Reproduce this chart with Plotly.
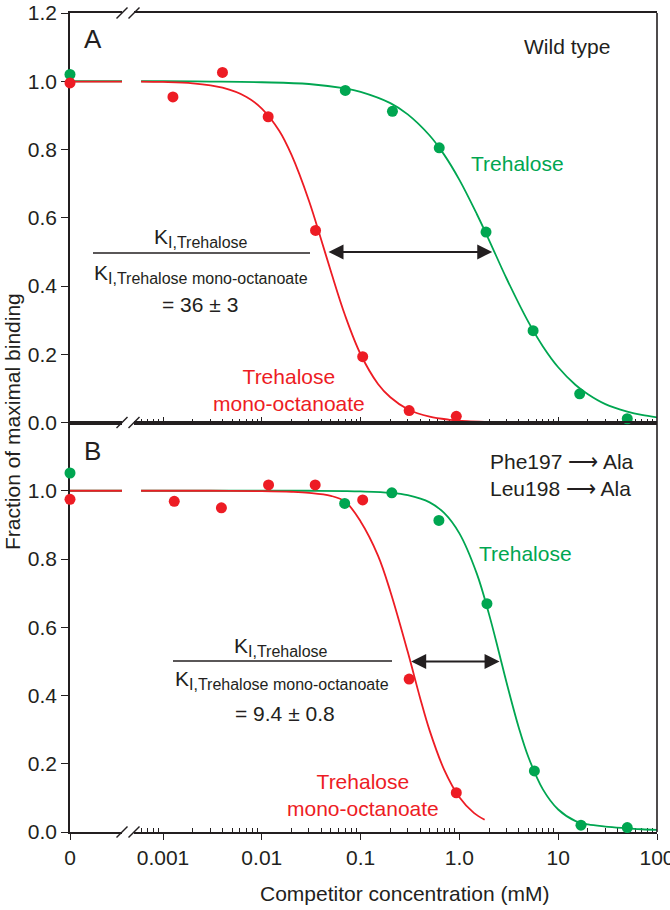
import numpy as np
import plotly.graph_objects as go

# ---------------- data ----------------
# Panel A : wild type
a_tre_conc = [0.07, 0.21, 0.625, 1.86, 5.57, 16.5, 50]
a_tre_frac = [0.973, 0.912, 0.805, 0.558, 0.269, 0.084, 0.011]
a_tre_zero = 1.02
a_oct_conc = [0.00126, 0.0040, 0.0116, 0.035, 0.105, 0.31, 0.93]
a_oct_frac = [0.954, 1.026, 0.896, 0.563, 0.193, 0.035, 0.018]
a_oct_zero = 0.995

a_tre_fit_x = [0.0006, 0.001, 0.003, 0.01, 0.03, 0.07, 0.1, 0.2, 0.3, 0.5, 0.7, 1, 1.5, 2, 3, 5, 7, 10, 15, 20, 30, 50, 70, 100]
a_tre_fit_y = [1.0, 1.0, 0.999, 0.997, 0.992, 0.979, 0.969, 0.936, 0.903, 0.841, 0.785, 0.711, 0.611, 0.534, 0.422,
               0.294, 0.223, 0.162, 0.11, 0.083, 0.054, 0.032, 0.022, 0.015]
a_oct_fit_x = [0.0006, 0.001, 0.002, 0.004, 0.007, 0.01, 0.015, 0.02, 0.03, 0.04, 0.05, 0.07, 0.1, 0.15, 0.2, 0.3,
               0.5, 0.8, 1.2, 1.8]
a_oct_fit_y = [0.999, 0.998, 0.994, 0.981, 0.954, 0.92, 0.855, 0.784, 0.65, 0.535, 0.443, 0.312, 0.20, 0.113, 0.074,
               0.039, 0.017, 0.008, 0.004, 0.002]

# Panel B : Phe197->Ala / Leu198->Ala
b_tre_conc = [0.069, 0.207, 0.62, 1.9, 5.74, 17, 50]
b_tre_frac = [0.963, 0.994, 0.913, 0.669, 0.179, 0.020, 0.013]
b_tre_zero = 1.052
b_oct_conc = [0.0013, 0.0039, 0.0117, 0.0347, 0.105, 0.31, 0.93]
b_oct_frac = [0.969, 0.950, 1.017, 1.017, 0.973, 0.448, 0.115]
b_oct_zero = 0.975

b_tre_fit_x = [0.0006, 0.001, 0.01, 0.03, 0.07, 0.1, 0.2, 0.3, 0.5, 0.7, 1, 1.5, 2, 2.5, 3, 4, 5, 7, 10, 15, 20, 30,
               50, 70, 100]
b_tre_fit_y = [1.0, 1.0, 1.0, 1.0, 0.999, 0.998, 0.994, 0.987, 0.966, 0.935, 0.875, 0.757, 0.637, 0.529, 0.438,
               0.305, 0.219, 0.125, 0.066, 0.032, 0.022, 0.016, 0.011, 0.008, 0.006]
b_oct_fit_x = [0.0006, 0.001, 0.003, 0.01, 0.02, 0.03, 0.05, 0.07, 0.1, 0.15, 0.2, 0.3, 0.4, 0.5, 0.7, 1.0, 1.4, 1.8]
b_oct_fit_y = [1.0, 1.0, 1.0, 0.999, 0.997, 0.994, 0.985, 0.968, 0.91, 0.81, 0.705, 0.528, 0.393, 0.297, 0.183,
               0.102, 0.056, 0.036]

# IC50 arrows (mM)
a_arrow = [0.0457, 2.15]
b_arrow = [0.314, 2.55]
arrow_level = 0.5

# axis ticks
x_major = [0.001, 0.01, 0.1, 1, 10, 100]
x_major_text = ["0.001", "0.01", "0.1", "1.0", "10", "100"]
y_ticks_a = [0.0, 0.2, 0.4, 0.6, 0.8, 1.0, 1.2]
y_ticks_b = [0.0, 0.2, 0.4, 0.6, 0.8, 1.0]

# ---------------- styling ----------------
RED = "#ED1C24"
GREEN = "#00A651"
INK = "#231F20"
FONT = "Liberation Sans, Arial, sans-serif"

W, H = 670, 910
L, R, T, B = 70, 657, 13, 832


def px_x(p):
    return (p - L) / (R - L)


def px_y(p):
    return (B - p) / (B - T)


d1 = px_x(122)   # end of the "0" segment
d2 = px_x(134)   # start of the log segment
log_left = -3 + (134 - 163) / 98.8

minor_vals = [k * 10.0 ** e for e in range(-4, 2) for k in range(2, 10)]
minor_vals = [v for v in minor_vals if np.log10(v) > log_left and v < 100]

fig = go.Figure()


def add_panel(xz, xl, ya, tre_fx, tre_fy, oct_fx, oct_fy, tre_c, tre_f, tre_z, oct_c, oct_f, oct_z):
    fig.add_trace(go.Scatter(x=[0, 1], y=[tre_fy[0], tre_fy[0]], mode="lines", xaxis=xz, yaxis=ya,
                             line=dict(color=GREEN, width=1.8), hoverinfo="skip"))
    fig.add_trace(go.Scatter(x=[0, 1], y=[oct_fy[0], oct_fy[0]], mode="lines", xaxis=xz, yaxis=ya,
                             line=dict(color=RED, width=1.8), hoverinfo="skip"))
    fig.add_trace(go.Scatter(x=tre_fx, y=tre_fy, mode="lines", xaxis=xl, yaxis=ya, line_shape="spline",
                             line=dict(color=GREEN, width=1.8), hoverinfo="skip"))
    fig.add_trace(go.Scatter(x=oct_fx, y=oct_fy, mode="lines", xaxis=xl, yaxis=ya, line_shape="spline",
                             line=dict(color=RED, width=1.8), hoverinfo="skip"))
    fig.add_trace(go.Scatter(x=[0], y=[tre_z], mode="markers", xaxis=xz, yaxis=ya, cliponaxis=False,
                             marker=dict(color=GREEN, size=11)))
    fig.add_trace(go.Scatter(x=[0], y=[oct_z], mode="markers", xaxis=xz, yaxis=ya, cliponaxis=False,
                             marker=dict(color=RED, size=11)))
    fig.add_trace(go.Scatter(x=tre_c, y=tre_f, mode="markers", xaxis=xl, yaxis=ya, cliponaxis=False,
                             marker=dict(color=GREEN, size=11)))
    fig.add_trace(go.Scatter(x=oct_c, y=oct_f, mode="markers", xaxis=xl, yaxis=ya, cliponaxis=False,
                             marker=dict(color=RED, size=11)))


add_panel("x", "x2", "y", a_tre_fit_x, a_tre_fit_y, a_oct_fit_x, a_oct_fit_y,
          a_tre_conc, a_tre_frac, a_tre_zero, a_oct_conc, a_oct_frac, a_oct_zero)
add_panel("x3", "x4", "y2", b_tre_fit_x, b_tre_fit_y, b_oct_fit_x, b_oct_fit_y,
          b_tre_conc, b_tre_frac, b_tre_zero, b_oct_conc, b_oct_frac, b_oct_zero)

axis_common = dict(showline=True, linecolor=INK, linewidth=1.6, showgrid=False, zeroline=False,
                   automargin=False, layer="below traces", tickcolor=INK, tickwidth=1.4,
                   ticklabeloverflow="allow",
                   tickfont=dict(size=21, color=INK, family=FONT))

fig.update_layout(
    template="none",
    width=W, height=H, margin=dict(l=L, r=W - R, t=T, b=H - B, autoexpand=False),
    plot_bgcolor="white", paper_bgcolor="white", showlegend=False,
    font=dict(family=FONT, color=INK, size=21),
    xaxis=dict(domain=[0, d1], range=[0, 1], anchor="y", mirror=True, ticks="inside", ticklen=6,
               tickvals=[0], showticklabels=False, **axis_common),
    xaxis2=dict(type="log", domain=[d2, 1], range=[log_left, 2], anchor="y", mirror=True, ticks="inside",
                ticklen=6, tickvals=x_major, showticklabels=False,
                minor=dict(tickvals=minor_vals, ticks="inside", ticklen=4, tickcolor=INK, tickwidth=1.2),
                **axis_common),
    xaxis3=dict(domain=[0, d1], range=[0, 1], anchor="y2", mirror=True, ticks="outside", ticklen=6,
                tickvals=[0], ticktext=["0"], **axis_common),
    xaxis4=dict(type="log", domain=[d2, 1], range=[log_left, 2], anchor="y2", mirror=True, ticks="outside",
                ticklen=6, tickvals=x_major, ticktext=x_major_text,
                minor=dict(tickvals=minor_vals, ticks="inside", ticklen=4, tickcolor=INK, tickwidth=1.2),
                **axis_common),
    yaxis=dict(domain=[0.5, 1], range=[0, 1.2], anchor="x", ticks="outside", ticklen=7,
               tickvals=y_ticks_a, ticktext=[f"{v:.1f}" for v in y_ticks_a], **axis_common),
    yaxis2=dict(domain=[0, 0.5], range=[0, 1.2], anchor="x3", ticks="outside", ticklen=7,
                tickvals=y_ticks_b, ticktext=[f"{v:.1f}" for v in y_ticks_b], **axis_common),
)

shapes = []
shapes.append(dict(type="line", xref="paper", yref="paper", x0=1, x1=1, y0=0, y1=1,
                   line=dict(color=INK, width=1.6)))
for xa in (d1, d2):
    for ya in (1.0, 0.5, 0.0):
        shapes.append(dict(type="line", xref="paper", yref="paper", xsizemode="pixel", ysizemode="pixel",
                           xanchor=xa, yanchor=ya, x0=-5.5, x1=5.5, y0=-5.5, y1=5.5,
                           line=dict(color=INK, width=1.5)))
shapes.append(dict(type="line", xref="paper", yref="paper", x0=px_x(93), x1=px_x(310), y0=px_y(253),
                   y1=px_y(253), line=dict(color=INK, width=1.4)))
shapes.append(dict(type="line", xref="paper", yref="paper", x0=px_x(173), x1=px_x(392), y0=px_y(661),
                   y1=px_y(661), line=dict(color=INK, width=1.4)))
fig.update_layout(shapes=shapes)

ann = []


def text(t, x, y, size=21, color=INK, **kw):
    d = dict(text=t, xref="paper", yref="paper", x=px_x(x), y=px_y(y), showarrow=False,
             font=dict(size=size, color=color, family=FONT), xanchor="center", yanchor="middle")
    d.update(kw)
    ann.append(d)


SUB = "<sub><span style='font-size:16px'>{}</span></sub>"

text("A", 93, 39, size=26)
text("B", 92, 451, size=26)
text("Wild type", 567, 47)
text("Trehalose", 517, 163, color=GREEN)
text("Trehalose<br>mono-octanoate", 289, 390, color=RED)
text("K" + SUB.format("I,Trehalose"), 201, 238)
text("K" + SUB.format("I,Trehalose mono-octanoate"), 201, 274)
text("= 36 ± 3", 200, 305)

text("Phe197 ⟶ Ala<br>Leu198 ⟶ Ala", 488, 475, xanchor="left", align="left")
text("Trehalose", 525, 553, color=GREEN)
text("K" + SUB.format("I,Trehalose"), 281, 647)
text("K" + SUB.format("I,Trehalose mono-octanoate"), 282, 680)
text("= 9.4 ± 0.8", 285, 713)
text("Trehalose<br>mono-octanoate", 363, 795, color=RED)

text("Competitor concentration (mM)", 404, 893)
text("Fraction of maximal binding", 12, 422, textangle=-90)

for (lo, hi), ya in ((a_arrow, "y"), (b_arrow, "y2")):
    xa = "x2" if ya == "y" else "x4"
    ann.append(dict(text="", xref=xa, yref=ya, axref=xa, ayref=ya,
                    x=np.log10(hi), y=arrow_level, ax=np.log10(lo), ay=arrow_level,
                    showarrow=True, arrowhead=2, arrowside="end+start", arrowsize=1.5,
                    arrowwidth=2, arrowcolor=INK, standoff=0, startstandoff=0))

fig.update_layout(annotations=ann)

fig.write_html("out.html", config={"displayModeBar": False},
               post_script="document.body.style.margin='0';document.body.style.overflow='hidden';")
